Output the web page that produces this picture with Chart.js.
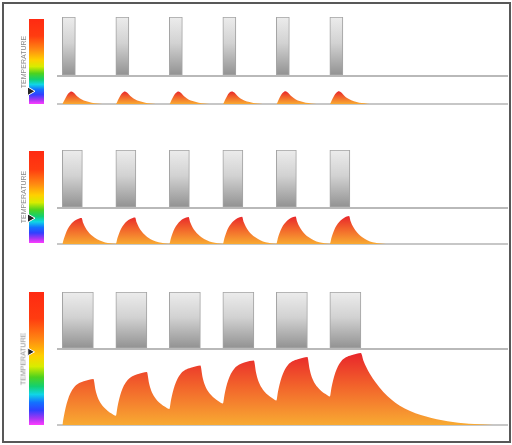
<!DOCTYPE html>
<html><head><meta charset="utf-8">
<script src="https://cdn.jsdelivr.net/npm/chart.js@4.4.1/dist/chart.umd.min.js"></script>
<style>
html,body{margin:0;padding:0;background:#fff;}
#wrap{position:relative;width:512px;height:445px;overflow:hidden;background:#fff;}
#frame{position:absolute;left:2px;top:2px;width:509px;height:441px;box-sizing:border-box;border:2px solid #585858;}
canvas{position:absolute;}
.lbl{position:absolute;font-family:"Liberation Sans",Arial,sans-serif;font-size:7px;color:#8a8a8a;white-space:nowrap;transform:translate(-50%,-50%) rotate(-90deg);}
</style></head>
<body><div id="wrap"><div id="frame"></div></div>
<script>
// ---------- DATA ----------
const pulseStarts = [0, 1, 2, 3, 4, 5];
const pulseWidths = [0.243, 0.374, 0.58];
const markerLevels = [15, 27, 55];
const colorbarLabel = 'TEMPERATURE';

const temp1Time = [
 0,0.04,0.08,0.12,0.17,0.22,0.27,0.33,0.4,0.5,0.6,0.7,0.8,
 1,1.04,1.08,1.12,1.17,1.22,1.27,1.33,1.4,1.5,1.6,1.7,1.8,
 2,2.04,2.08,2.12,2.17,2.22,2.27,2.33,2.4,2.5,2.6,2.7,2.8,
 3,3.04,3.08,3.12,3.17,3.22,3.27,3.33,3.4,3.5,3.6,3.7,3.8,
 4,4.04,4.08,4.12,4.17,4.22,4.27,4.33,4.4,4.5,4.6,4.7,4.8,
 5,5.04,5.08,5.12,5.17,5.22,5.27,5.33,5.4,5.5,5.6,5.7,5.8];
const temp1Value = [
 0,4,8,11,12.5,11,8,5.5,3.5,2,0.8,0.2,0,
 0,4,8,11,12.5,11,8,5.5,3.5,2,0.8,0.2,0,
 0,4.1,8.1,11.1,12.6,11.1,8.1,5.6,3.5,2,0.8,0.2,0,
 0,4.1,8.1,11.2,12.6,11.2,8.2,5.6,3.6,2,0.8,0.2,0,
 0,4.1,8.2,11.2,12.7,11.2,8.2,5.7,3.6,2.1,0.9,0.2,0,
 0,4.2,8.2,11.3,12.8,11.3,8.3,5.7,3.7,2.1,0.9,0.3,0];

const temp2Time = [
 0,0.03,0.06,0.1,0.15,0.2,0.27,0.36,0.39,0.43,0.48,0.54,0.6,0.7,0.8,0.9,
 1,1.03,1.06,1.1,1.15,1.2,1.27,1.36,1.39,1.43,1.48,1.54,1.6,1.7,1.8,1.9,
 2,2.03,2.06,2.1,2.15,2.2,2.27,2.36,2.39,2.43,2.48,2.54,2.6,2.7,2.8,2.9,
 3,3.03,3.06,3.1,3.15,3.2,3.27,3.36,3.39,3.43,3.48,3.54,3.6,3.7,3.8,3.9,
 4,4.03,4.06,4.1,4.15,4.2,4.27,4.36,4.39,4.43,4.48,4.54,4.6,4.7,4.8,4.9,
 5,5.03,5.06,5.1,5.15,5.2,5.27,5.36,5.39,5.43,5.48,5.54,5.6,5.7,5.8,5.9,6.0,6.1];
const temp2Value = [
 0,5.5,10,15,19,22,24.5,26,21,16.5,12.5,9,6.5,3.5,1.6,0.7,
 0.3,6,10.5,15.5,19.5,22.5,25,26.5,21.4,16.8,12.7,9.2,6.6,3.6,1.7,0.7,
 0.3,6,10.7,15.7,19.8,22.8,25.4,27,21.8,17.1,13,9.4,6.8,3.7,1.7,0.7,
 0.3,6.1,10.8,15.9,20,23,25.7,27.3,22,17.3,13.1,9.5,6.9,3.7,1.7,0.7,
 0.3,6.2,11,16.1,20.2,23.3,26,27.6,22.3,17.5,13.3,9.6,7,3.8,1.8,0.8,
 0.3,6.3,11.1,16.3,20.5,23.6,26.3,28,22.6,17.8,13.5,9.8,7.1,3.8,1.8,0.8,0.2,0];

const temp3Time = [
 0,0.03,0.06,0.1,0.15,0.22,0.3,0.4,0.5,0.58,0.62,0.66,0.72,0.78,0.85,0.92,
 1,1.03,1.06,1.1,1.15,1.22,1.3,1.4,1.5,1.58,1.62,1.66,1.72,1.78,1.85,1.92,
 2,2.03,2.06,2.1,2.15,2.22,2.3,2.4,2.5,2.58,2.62,2.66,2.72,2.78,2.85,2.92,
 3,3.03,3.06,3.1,3.15,3.22,3.3,3.4,3.5,3.58,3.62,3.66,3.72,3.78,3.85,3.92,
 4,4.03,4.06,4.1,4.15,4.22,4.3,4.4,4.5,4.58,4.62,4.66,4.72,4.78,4.85,4.92,
 5,5.03,5.06,5.1,5.15,5.22,5.3,5.4,5.5,5.58,
 5.63,5.68,5.75,5.85,6.0,6.15,6.3,6.5,6.7,6.9,7.1,7.3,7.5,7.7,7.9,8.05];
const temp3Value = [
 0,9.2,17,24.8,31.7,37.7,41.4,43.7,45.3,46,35,27.7,21.4,17.4,14.1,11.5,
 9.3,18,25.5,32.9,39.5,45.1,48.6,50.8,52.3,53,41.9,34.5,28.2,24.1,20.8,18.2,
 16,24.7,32.1,39.5,46,51.7,55.2,57.3,58.8,59.5,48.1,40.5,34,29.9,26.4,23.8,
 21.5,30.1,37.4,44.7,51.2,56.8,60.2,62.4,63.9,64.5,52.5,44.5,37.7,33.3,29.7,26.9,
 24.5,33.2,40.6,48,54.5,60.2,63.7,65.8,67.3,68,56.2,48.3,41.5,37.2,33.6,30.9,
 28.5,37.2,44.6,52,58.5,64.2,67.7,69.8,71.3,72,
 64,58,51,43,33,25.5,19.5,14,10,7,4.7,3,1.8,1,0.4,0];

const tempTimes = [temp1Time, temp2Time, temp3Time];
const tempValues = [temp1Value, temp2Value, temp3Value];

// ---------- LAYOUT ----------
const layout = [
 {pulseTop:17, pulseH:60, tempTop:78, tempH:27, barTop:19, barH:85, labelY:61.5, mRadius:5},
 {pulseTop:150, pulseH:59, tempTop:210, tempH:35, barTop:151, barH:92, labelY:197, mRadius:5},
 {pulseTop:292, pulseH:58, tempTop:350, tempH:76, barTop:292, barH:133, labelY:358.5, mRadius:4.5}
];
const X_MIN = -0.1, X_MAX = 8.33;
const wrap = document.getElementById('wrap');

function makeCanvas(left, top, w, h) {
  const c = document.createElement('canvas');
  c.width = w; c.height = h;
  c.style.left = left + 'px'; c.style.top = top + 'px';
  c.style.width = w + 'px'; c.style.height = h + 'px';
  wrap.appendChild(c);
  return c;
}

const baselinePlugin = {
  id: 'baseline',
  beforeDatasetsDraw(chart, args, opts) { if (opts && opts.before) drawBase(chart, opts); },
  afterDatasetsDraw(chart, args, opts) { if (opts && opts.color && !opts.before) drawBase(chart, opts); }
};
function drawBase(chart, opts) {
  const a = chart.chartArea, ctx = chart.ctx;
  let y = opts.zero ? chart.scales.y.getPixelForValue(0) : a.bottom;
  y += opts.offset || 0;
  ctx.save();
  ctx.strokeStyle = opts.color; ctx.lineWidth = opts.width;
  ctx.beginPath(); ctx.moveTo(a.left, y); ctx.lineTo(a.right, y); ctx.stroke();
  ctx.restore();
}

const common = {
  responsive: false, animation: false, devicePixelRatio: 1, events: [],
};

layout.forEach((L, i) => {
  // ---- pulse chart ----
  const pc = makeCanvas(57, L.pulseTop, 451, L.pulseH);
  const grayGrad = (ctx) => {
    const a = ctx.chart.chartArea;
    if (!a) return '#cccccc';
    const g = ctx.chart.ctx.createLinearGradient(0, a.top, 0, a.bottom);
    g.addColorStop(0, '#ececec');
    g.addColorStop(0.45, '#d2d2d2');
    g.addColorStop(1, '#929292');
    return g;
  };
  new Chart(pc, {
    type: 'bar',
    data: {
      labels: ['pulse'],
      datasets: pulseStarts.map(s => ({
        data: [[s, s + pulseWidths[i]]],
        grouped: false,
        barPercentage: 1, categoryPercentage: 1,
        backgroundColor: grayGrad,
        borderColor: 'rgba(140,140,140,0.8)',
        borderWidth: 1, borderSkipped: false
      }))
    },
    options: Object.assign({}, common, {
      indexAxis: 'y',
      layout: {padding: {bottom: 2}, autoPadding: false},
      scales: {
        x: {type: 'linear', min: X_MIN, max: X_MAX, display: false},
        y: {type: 'category', display: false}
      },
      plugins: {legend: {display: false}, tooltip: {enabled: false},
        baseline: {color: '#a2a2a2', width: 1.5, offset: 1}}
    }),
    plugins: [baselinePlugin]
  });

  // ---- temperature chart ----
  const tc = makeCanvas(57, L.tempTop, 451, L.tempH);
  const times = tempTimes[i], vals = tempValues[i];
  const vmax = Math.max(...vals);
  const fireGrad = (ctx) => {
    const ch = ctx.chart, a = ch.chartArea;
    if (!a) return '#f48a2e';
    const yTop = ch.scales.y.getPixelForValue(vmax);
    const yBot = ch.scales.y.getPixelForValue(0);
    const g = ch.ctx.createLinearGradient(0, yTop, 0, yBot);
    g.addColorStop(0, '#e8252b');
    g.addColorStop(0.45, '#f2622b');
    g.addColorStop(1, '#f8aa32');
    return g;
  };
  new Chart(tc, {
    type: 'line',
    data: {
      datasets: [{
        data: times.map((t, k) => ({x: t, y: vals[k]})),
        fill: 'origin', borderWidth: 0, pointRadius: 0,
        cubicInterpolationMode: 'monotone',
        backgroundColor: fireGrad, borderColor: 'rgba(0,0,0,0)'
      }]
    },
    options: Object.assign({}, common, {
      layout: {autoPadding: false},
      scales: {
        x: {type: 'linear', min: X_MIN, max: X_MAX, display: false},
        y: {type: 'linear', min: -1, max: L.tempH - 1, display: false}
      },
      plugins: {legend: {display: false}, tooltip: {enabled: false},
        baseline: {color: '#b4b4b4', width: 1.5, zero: true, before: true}}
    }),
    plugins: [baselinePlugin]
  });

  // ---- colour bar ----
  const bc = makeCanvas(24, L.barTop, 21, L.barH);
  const rainbow = (ctx) => {
    const ch = ctx.chart, a = ch.chartArea;
    if (!a) return '#ff8800';
    const g = ch.ctx.createLinearGradient(0, ch.scales.y.getPixelForValue(100), 0, ch.scales.y.getPixelForValue(0));
    g.addColorStop(0, '#ff2a12');
    g.addColorStop(0.2, '#ff3c10');
    g.addColorStop(0.36, '#ff8a12');
    g.addColorStop(0.48, '#ffd000');
    g.addColorStop(0.56, '#d8ec00');
    g.addColorStop(0.64, '#4ed21e');
    g.addColorStop(0.71, '#12d070');
    g.addColorStop(0.77, '#10d6e6');
    g.addColorStop(0.83, '#1272ff');
    g.addColorStop(0.89, '#3040ff');
    g.addColorStop(0.95, '#a436f2');
    g.addColorStop(1, '#ff3cff');
    return g;
  };
  new Chart(bc, {
    type: 'line',
    data: {
      datasets: [
        {data: [{x: 5, y: 100}, {x: 20, y: 100}], fill: 'origin', borderWidth: 0,
         pointRadius: 0, backgroundColor: rainbow, borderColor: 'rgba(0,0,0,0)', order: 2},
        {type: 'scatter', data: [{x: 6, y: markerLevels[i]}], pointStyle: 'triangle',
         rotation: 90, radius: L.mRadius, backgroundColor: '#262626',
         borderColor: '#ffffff', borderWidth: 1, order: 1, clip: false}
      ]
    },
    options: Object.assign({}, common, {
      layout: {autoPadding: false},
      scales: {
        x: {type: 'linear', min: 0, max: 21, display: false},
        y: {type: 'linear', min: 0, max: 100, display: false}
      },
      plugins: {legend: {display: false}, tooltip: {enabled: false}}
    })
  });

  // ---- label ----
  const d = document.createElement('div');
  d.className = 'lbl';
  d.textContent = colorbarLabel;
  d.style.left = '22.5px';
  d.style.top = L.labelY + 'px';
  wrap.appendChild(d);
});
</script>
</body></html>
